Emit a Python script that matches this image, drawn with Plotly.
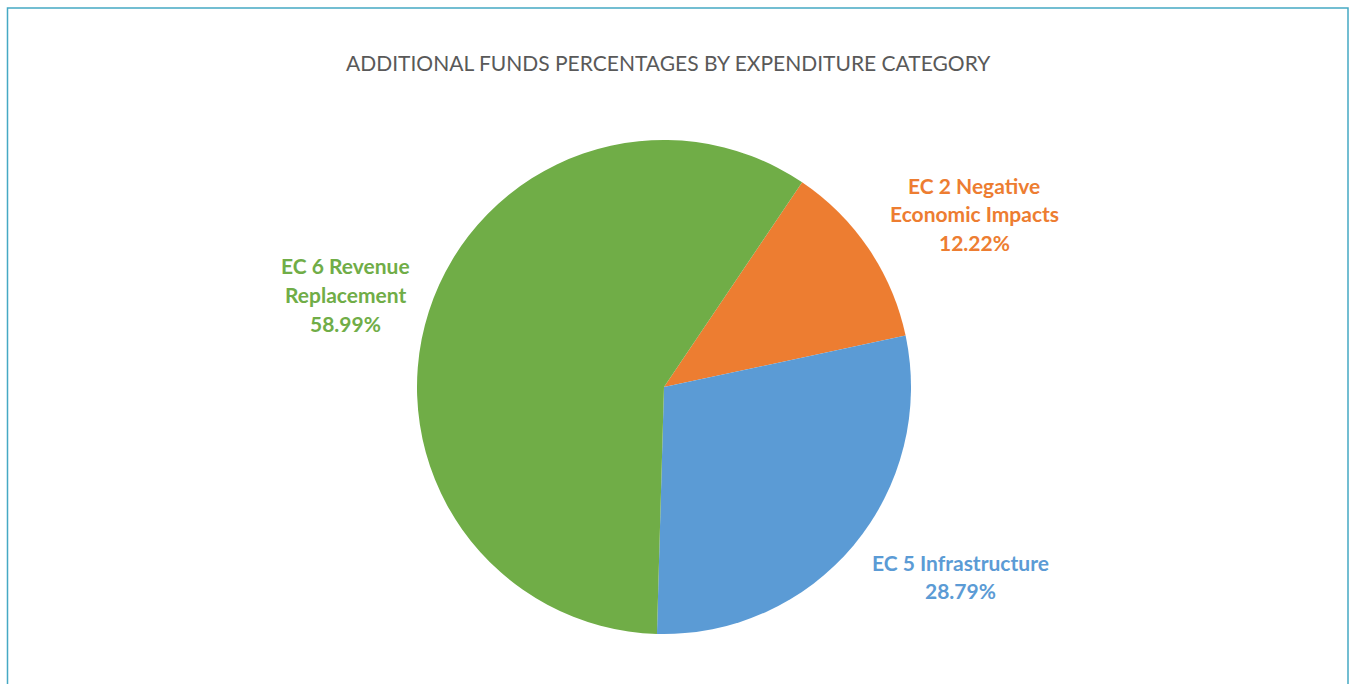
import plotly.graph_objects as go

W, H = 1352, 684

categories = ["EC 2 Negative Economic Impacts", "EC 5 Infrastructure", "EC 6 Revenue Replacement"]
label_lines = [["EC 2 Negative", "Economic Impacts"], ["EC 5 Infrastructure"], ["EC 6 Revenue", "Replacement"]]
percentages = [12.22, 28.79, 58.99]
colors = ["#ED7D31", "#5B9BD5", "#70AD47"]
title = "ADDITIONAL FUNDS PERCENTAGES BY EXPENDITURE CATEGORY"

# label anchor (center x, first-line y) in pixels
label_pos = [(974, 185), (960, 562), (346, 266)]
line_gap = 28.5

cx, cy, r = 664, 387, 247

fig = go.Figure(go.Pie(
    labels=categories,
    values=percentages,
    marker=dict(colors=colors, line=dict(color="white", width=0)),
    sort=False,
    direction="clockwise",
    rotation=34,
    textinfo="none",
    hoverinfo="label+percent",
    showlegend=False,
    domain=dict(x=[(cx - r) / W, (cx + r) / W], y=[1 - (cy + r) / H, 1 - (cy - r) / H]),
))

annotations = [dict(
    text=title, x=668 / W, y=1 - 62 / H, xref="paper", yref="paper",
    xanchor="center", yanchor="middle", showarrow=False,
    font=dict(family="Lato, Open Sans, sans-serif", size=21, color="#595959"),
)]
for lines, pct, col, (lx, ly) in zip(label_lines, percentages, colors, label_pos):
    all_lines = lines + [f"{pct:.2f}%"]
    for i, t in enumerate(all_lines):
        annotations.append(dict(
            text=f"<b>{t}</b>", x=lx / W, y=1 - (ly + i * line_gap) / H,
            xref="paper", yref="paper", xanchor="center", yanchor="middle",
            showarrow=False,
            font=dict(family="Lato, Open Sans, sans-serif", size=21, color=col),
        ))

fig.update_layout(
    width=W, height=H,
    margin=dict(l=0, r=0, t=0, b=0),
    paper_bgcolor="white", plot_bgcolor="white",
    annotations=annotations,
    shapes=[dict(type="rect", xref="paper", yref="paper",
                 x0=7.5 / W, x1=1348 / W, y0=-0.05, y1=1 - 8 / H,
                 line=dict(color="#46A9C4", width=1.5))],
)

fig.write_html(
    "out.html",
    config={"displayModeBar": False},
    post_script="document.body.style.margin='0';document.body.style.overflow='hidden';",
)
